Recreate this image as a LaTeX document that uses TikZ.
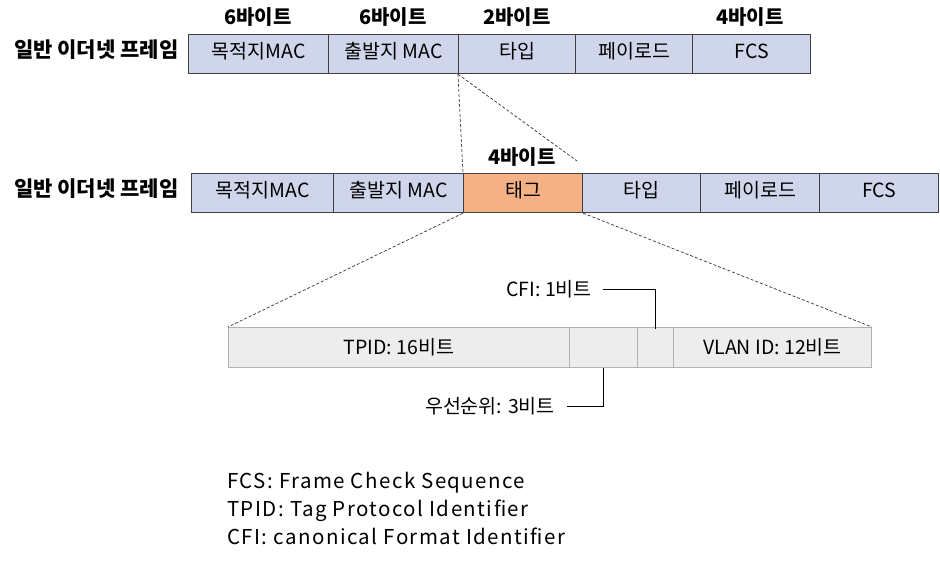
\documentclass[tikz,border=0pt]{standalone}
\usepackage{fontspec}
\setmainfont{Noto Sans CJK KR}
\newfontfamily\legendfont[LetterSpace=7]{Noto Sans CJK KR}
\begin{document}
\begin{tikzpicture}[x=1pt,y=-1pt,
  frame/.style={draw=black!75, line width=1.2pt, fill=framefill, minimum height=39pt, anchor=north west, inner sep=0pt, text height=14pt, text depth=5pt, font=\fontsize{19.5}{22}\selectfont},
  tagcell/.style={frame, fill=tagfill},
  bitcell/.style={draw=black!30, line width=0.9pt, fill=black!7, minimum height=40pt, anchor=north west, inner sep=0pt, font=\fontsize{19.5}{22}\selectfont},
  hdr/.style={font=\bfseries\fontsize{20}{23}\selectfont, inner sep=0pt},
  rowlbl/.style={font=\bfseries\fontsize{21}{24}\selectfont, inner sep=0pt, anchor=west},
  lbl/.style={font=\fontsize{19.5}{22}\selectfont, inner sep=0pt},
  legend/.style={font=\legendfont\fontsize{20.5}{23}\selectfont, inner sep=0pt, anchor=base west},
  zoomline/.style={densely dashed, line width=0.7pt, black!80},
  leader/.style={line width=1pt, black}
]
\definecolor{framefill}{HTML}{CFD5EA}
\definecolor{tagfill}{HTML}{F4B183}
\useasboundingbox (0,0) rectangle (940,565);

% top frame
\node[rowlbl] (lab1) at (14,50) {일반 이더넷 프레임};
\node[frame, minimum width=140pt] (t1) at (188,34) {목적지MAC};
\node[frame, minimum width=130pt] (t2) at (328,34) {출발지 MAC};
\node[frame, minimum width=117pt] (t3) at (458,34) {타입};
\node[frame, minimum width=117pt] (t4) at (575,34) {페이로드};
\node[frame, minimum width=118pt] (t5) at (692,34) {FCS};
\node[hdr] (h1) at (258,17) {6바이트};
\node[hdr] (h2) at (393,17) {6바이트};
\node[hdr] (h3) at (517,17) {2바이트};
\node[hdr] (h4) at (750,17) {4바이트};

% tagged frame
\node[rowlbl] (lab2) at (14,189) {일반 이더넷 프레임};
\node[frame, minimum width=142pt] (g1) at (191,173) {목적지MAC};
\node[frame, minimum width=130pt] (g2) at (333,173) {출발지 MAC};
\node[tagcell, minimum width=119pt] (g3) at (463,173) {태그};
\node[frame, minimum width=118pt] (g4) at (582,173) {타입};
\node[frame, minimum width=119pt] (g5) at (700,173) {페이로드};
\node[frame, minimum width=119pt] (g6) at (819,173) {FCS};
\node[hdr] (h5) at (522,157) {4바이트};

% tag detail
\node[bitcell, minimum width=341pt] (v1) at (228,327) {TPID: 16비트};
\node[bitcell, minimum width=68pt] (v2) at (569,327) {};
\node[bitcell, minimum width=36pt] (v3) at (637,327) {};
\node[bitcell, minimum width=198pt] (v4) at (673,327) {VLAN ID: 12비트};

% zoom lines
\coordinate (zend) at (577,161);
\draw[zoomline] (t3.south west) -- (g3.north west);
\draw[zoomline] (t3.south west) -- (zend);
\draw[zoomline] (g3.south west) -- (v1.north west);
\draw[zoomline] (g3.south east) -- (v4.north east);

% labels with leaders
\node[lbl, anchor=east] (cfi) at (592,289) {CFI: 1비트};
\node[lbl, anchor=east] (pri) at (555,406) {우선순위: 3비트};
\draw[leader] ([xshift=11pt]cfi.east) -| ([yshift=-2pt]v3.north);
\draw[leader] ([xshift=12pt]pri.east) -| (v2.south);

% legend
\node[legend] (l1) at (227,488) {FCS: Frame Check Sequence};
\node[legend] (l2) at (227,516) {TPID: Tag Protocol Identifier};
\node[legend] (l3) at (227,544) {CFI: canonical Format Identifier};
\end{tikzpicture}
\end{document}
